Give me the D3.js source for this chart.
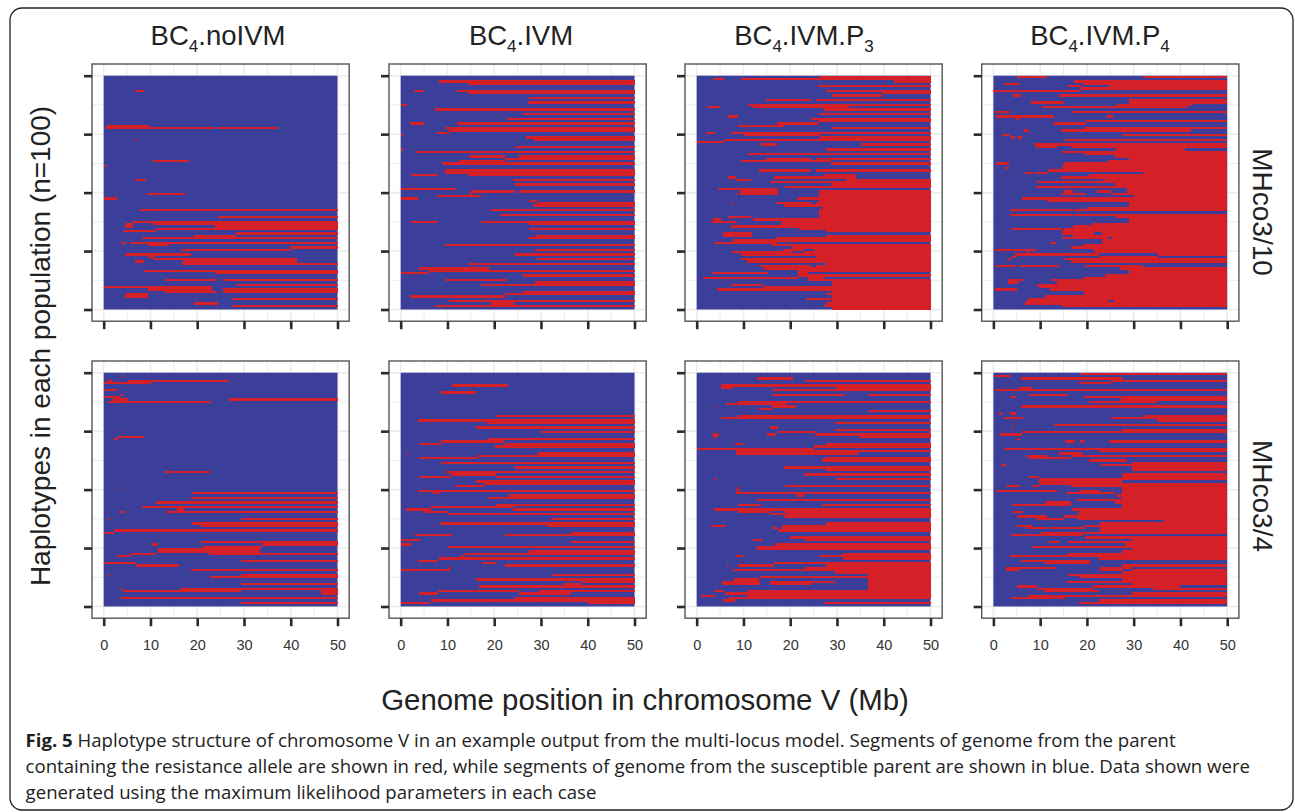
<!DOCTYPE html>
<html lang="en">
<head>
<meta charset="UTF-8">
<title>Haplotype structure</title>
<script src="https://cdn.jsdelivr.net/npm/d3@7"></script>
<style>
    body{margin:0;background:#fff;}
    svg{display:block;}
    .axis .domain{display:none;}
    .axis text{font-family:"Liberation Sans",Arial,sans-serif;font-size:14.5px;fill:#333;}
    .axis line{stroke:#2a2a2a;stroke-width:2.6;}
    .title{font-family:"Liberation Sans",Arial,sans-serif;fill:#222;}
    .caption{font-family:"Open Sans",sans-serif;font-size:18.6px;fill:#222;}
</style>
</head>
<body>
<svg width="1295" height="812"></svg>
<script>
// segments of resistant-parent genome: [haplotype row, start Mb, end Mb]
var noIVM_10 = [[6,6.6,8.6],[21,.5,9.6],[22,.5,23.5],[22,24.3,37.3],[27,6.6,7.2],[36,10.6,18.2],[38,.1,.8],[44,6.6,9.1],[50,9.3,17.4],[52,0,2.9],[57,7.7,50],[60,24.5,50],[62,6,50],[63,4.6,6.3],[63,10.6,50],[64,4.6,6.3],[64,23.9,50],[65,11.1,50],[66,4.2,11.1],[67,28.2,50],[68,19.4,28.2],[69,8.1,50],[71,3.8,4.8],[71,5.6,50],[72,9.4,14],[73,39.9,50],[74,16.5,39.9],[76,4.5,18.7],[77,9.4,10.7],[78,10.6,41.3],[79,6.6,8.6],[79,17,41.3],[80,16.7,50],[83,8.7,50],[84,23.7,50],[87,13.2,24.3],[87,25.5,50],[89,28.6,50],[90,0,23.2],[91,9.4,23.2],[91,25.5,50],[92,13.1,24.3],[92,25.5,50],[93,4.5,9.4],[94,4.5,9.4],[95,27.5,50],[97,19.4,24.5],[98,27.5,50]];

var IVM_10 = [[2,8.2,50],[3,14.3,50],[6,2.9,5],[6,12.1,50],[7,14.5,50],[9,27.4,50],[11,27.2,50],[12,0,1.4],[14,7.3,50],[16,26.2,50],[18,22.8,50],[20,1.9,5],[20,12.1,50],[22,9.4,50],[23,10.4,50],[24,7.7,10.3],[25,0,.6],[26,26.9,50],[27,28.6,50],[30,24.5,50],[31,0,.6],[32,3.2,50],[34,14.7,22.3],[34,25.3,50],[35,22.2,50],[36,12.4,22.2],[37,8.9,50],[40,9.4,50],[41,9.4,50],[42,2.3,7.9],[42,14.3,50],[44,24,50],[46,24.5,50],[48,0,11.8],[49,15.1,24.5],[49,25.3,50],[50,14.7,15.2],[51,7.7,17.2],[52,0,3.6],[53,27.4,29.2],[54,29.2,50],[55,28.4,50],[57,19.4,50],[59,21.3,50],[62,2.3,7.9],[62,17.2,50],[63,27.4,50],[65,27.4,50],[68,28.7,50],[69,27.2,50],[72,9.4,50],[74,28.7,50],[76,24.5,50],[78,29.2,50],[80,14.5,50],[82,4,18.8],[83,6,50],[84,0,6],[85,26.2,50],[87,9.4,22.8],[88,28.7,50],[89,17.2,50],[92,26.2,50],[93,22.3,50],[94,1.9,22.3],[96,10.4,50],[97,19.4,24.3],[98,7.3,50]];

var P3_10 = [[0,26.2,50],[1,3.5,5.8],[1,9.4,50],[2,42.1,50],[4,26,50],[6,27.6,50],[7,39.7,50],[8,29,39.7],[10,14.8,24.5],[10,25.5,50],[12,11,50],[13,2.1,5],[13,12.1,32.6],[14,27.2,50],[16,26.2,50],[17,6.7,8.9],[18,24.5,50],[19,25.9,50],[20,17.2,25.9],[21,8.9,18.7],[22,29,50],[24,2,3.9],[24,7.4,50],[25,10.2,26.4],[26,26.4,50],[27,5.8,50],[28,0,5.8],[29,13.8,17.2],[29,35.2,50],[31,27.6,50],[33,11,50],[35,14.8,24.5],[35,25.5,27],[35,27.4,50],[36,9.4,28.7],[37,28.7,50],[40,13.3,24.4],[40,25.5,50],[42,27.2,34],[43,6.7,8.3],[43,16.5,34],[44,8.4,11.6],[44,32,50],[45,15.6,50],[46,28.7,50],[47,18.9,50],[48,4.6,17.3],[49,9.2,17.3],[49,26.2,50],[50,8.3,8.9],[50,9.2,17.3],[50,26.2,50],[51,26.2,50],[52,21.4,50],[53,26.2,50],[54,7.4,7.8],[54,17,24.5],[54,25.5,50],[55,18.6,50],[56,27,50],[57,26.2,50],[58,26.2,50],[59,26.2,50],[60,6.7,11.6],[60,26.2,50],[61,3.5,5.1],[61,12.1,50],[62,3.1,8.6],[62,18,50],[63,18,50],[64,7.4,50],[65,21.8,50],[66,27.6,50],[67,5.7,11.9],[68,5.7,11.9],[68,27.6,50],[69,17,50],[70,7.8,17.2],[70,16.5,50],[71,3.7,17.2],[72,16.2,50],[73,20.4,50],[74,18.4,22.8],[74,25,50],[75,7.5,20.4],[75,22.8,50],[76,9.5,50],[77,25.5,50],[78,9.5,50],[79,10.8,50],[80,27.6,50],[81,13.3,24.4],[81,25.5,50],[82,14.3,50],[83,21.6,50],[84,3.3,15.2],[84,21.6,23.8],[85,21.6,50],[86,1.4,21.7],[86,23.8,27.2],[87,23.8,50],[88,29,50],[89,7.4,14.2],[89,29,50],[90,14.2,50],[91,4.3,50],[92,29,50],[93,27.6,50],[94,29,50],[95,23.3,50],[96,29,50],[97,27.6,50],[98,27.2,50],[99,29,50]];

var P4_10 = [[0,5.1,11.5],[0,32,50],[2,17.2,50],[3,2.3,5.6],[3,19.1,50],[4,16,18.8],[4,24.8,50],[5,18.6,50],[6,0,18.6],[8,4.3,5.8],[8,14,50],[10,28.9,50],[11,8.1,15.1],[11,28.9,50],[12,26.4,42.5],[13,10.5,41.3],[15,.3,3.6],[15,16.8,50],[17,.5,13],[17,24.4,25.5],[18,4.8,5.5],[19,19.8,50],[20,12.8,19.8],[22,19.4,50],[23,6.6,7.3],[23,14.5,42.2],[24,7.3,7.6],[25,1.9,3.6],[25,27.4,50],[26,3.7,4.7],[26,5.2,6.2],[27,15.4,50],[29,8.7,50],[30,9.1,13.5],[30,16.7,50],[31,26.2,40.9],[32,14.7,50],[33,19.6,50],[34,26,50],[35,28.9,50],[36,24.6,50],[37,.5,3.3],[37,15,50],[38,14.9,50],[39,2.5,3.3],[39,14.7,50],[40,11.7,50],[41,6.7,8.5],[41,9,11.5],[41,32,50],[42,20.4,50],[43,14.5,50],[44,23.5,24.3],[44,24.6,50],[45,9.4,50],[46,26,50],[47,9.2,50],[48,28.5,50],[49,15,17],[49,22.1,25.1],[49,28.5,50],[50,14.5,19.8],[50,25.1,50],[51,30,50],[52,6.2,50],[53,11.5,50],[54,28.9,50],[55,28.9,50],[56,20.1,50],[57,3.6,17],[57,17.2,50],[59,3.6,17],[59,17.2,50],[60,26.2,50],[61,28.9,50],[62,28.9,50],[63,21.1,50],[64,17,50],[65,3.8,14.7],[65,15,50],[66,14.7,50],[67,14.7,21.6],[67,23.2,50],[68,17,50],[69,14.7,24.6],[69,25.3,50],[70,23.2,50],[71,12.1,13.4],[71,23.2,50],[72,19.1,50],[73,16.7,50],[74,.4,9.4],[74,21.2,50],[75,7.2,7.6],[75,21.8,50],[76,4.6,22.5],[76,35.1,50],[77,4,4.8],[77,22.5,35.1],[78,3,3.7],[78,15,50],[79,16.7,50],[81,.5,4.8],[81,5.5,14.1],[81,19.5,32],[82,27.1,50],[83,28.9,50],[84,28.9,50],[85,23.9,50],[86,19.3,50],[87,3.2,5.1],[87,5.3,6.6],[87,12.4,50],[88,3.2,5.3],[88,13.6,50],[89,9.4,50],[90,9.7,50],[91,.4,5.1],[91,12,50],[92,19.4,50],[93,19.4,50],[94,11.1,50],[95,7.6,50],[96,6.9,24.6],[96,25.7,50],[97,6.7,50],[98,14.7,50]];

var noIVM_4 = [[1,3.8,4.2],[3,.8,1.9],[3,5.1,26.7],[4,0,10.1],[7,0,2.9],[9,3.5,4.2],[10,0,3.5],[11,1.9,5.1],[11,26.7,50],[12,1,23],[24,3.9,4.2],[27,3.1,8.6],[28,2.2,3],[42,12.8,22.8],[49,3.9,4.2],[51,18.8,50],[53,18.7,50],[55,11.1,50],[57,8.2,50],[58,15.7,17.1],[59,3.5,4.5],[59,13.3,50],[62,1,1.3],[62,29.4,50],[64,18.8,50],[65,20.9,50],[67,2.3,50],[68,0,2.3],[72,20.9,50],[73,10.4,11.7],[73,33.8,50],[74,21.2,33.8],[75,11.6,33.5],[76,11.6,33.5],[77,5.6,11.1],[77,22.5,50],[78,2.9,5.6],[80,29.4,50],[81,0,7],[82,7,16],[84,18.7,50],[86,1,1.3],[86,29.4,50],[87,22.8,50],[90,29.4,50],[92,3.8,4.2],[92,16.4,50],[93,4.2,29.4],[93,46.5,50],[94,46.5,50],[96,3.7,50],[98,29.4,50]];

var IVM_4 = [[5,10.9,23],[8,8.7,16.2],[18,20.4,50],[20,3.6,50],[21,18.4,50],[23,16.1,50],[25,30.1,50],[28,18.7,50],[29,8.7,22],[30,4,8.7],[30,22.2,50],[31,20.1,50],[34,1.1,1.3],[34,29.4,50],[35,16.5,50],[36,4,16.5],[38,8.7,50],[40,24.5,50],[42,9.6,50],[43,10.7,20.4],[44,4,10.7],[44,20.4,50],[46,16,50],[47,17.9,50],[48,11.7,17.9],[50,3.6,50],[51,6.9,8.3],[52,23.2,50],[53,18.7,50],[56,20.4,50],[57,6.4,24],[58,1.2,6.4],[58,24,50],[59,5,10.1],[60,10.1,50],[62,32.1,50],[64,8.3,50],[65,6.6,6.9],[65,31.2,50],[68,36.5,50],[69,3,11],[69,22.3,50],[71,0,4.1],[72,36.5,50],[73,0,2.1],[74,10.1,50],[76,27.4,50],[77,13.8,50],[78,12.8,13.8],[79,8.1,50],[80,3.6,8],[81,17.4,20.7],[82,22.3,50],[83,10.1,10.6],[84,0,10.6],[86,32.4,50],[88,16.1,50],[89,38.7,50],[90,35,38.5],[91,16.7,50],[93,7.9,25.3],[93,29.6,50],[94,4,7.9],[94,25.3,36.5],[96,24.5,50],[97,6.4,50],[98,0,6.2],[98,40,50]];

var P3_4 = [[2,12.9,20.5],[3,23.2,50],[5,5.2,50],[6,5.2,7.7],[6,29.8,50],[7,16.1,50],[9,16,31.7],[9,36.7,50],[12,8.9,50],[13,6.2,19],[14,3.7,4],[14,16.1,21.3],[15,13.4,16],[16,36.7,50],[18,8.9,50],[19,5.2,50],[21,29.6,50],[23,15.7,17.3],[24,29.6,50],[25,17.3,25.3],[26,3.5,4.8],[26,15,17],[26,25.3,50],[27,3.5,4.4],[27,34.9,50],[30,8.2,9.9],[30,27.6,50],[31,25,50],[32,0,25],[33,8.3,50],[34,8.3,34.5],[36,27.4,50],[37,26.7,50],[40,18.7,50],[41,27.6,50],[43,23,50],[45,3.8,4.2],[45,29.7,50],[48,18.9,50],[49,8.7,9],[50,8.5,9.1],[51,8.4,50],[52,21.4,23],[54,13,50],[56,8.9,13.8],[56,26.7,50],[58,3.7,50],[59,8.9,15.7],[59,18.7,50],[60,15.7,18.9],[60,19.4,50],[61,18.7,50],[64,27.6,50],[65,3,6.2],[65,18.2,50],[66,16.1,17.3],[66,18.2,50],[67,17.3,50],[70,20,50],[71,12.1,14],[71,23.2,50],[73,16.8,50],[74,12.6,50],[75,13,50],[77,31.3,50],[78,8.5,10],[78,26.2,50],[79,31.3,50],[81,16.5,50],[82,6.5,6.7],[82,8.8,16.5],[82,27.6,50],[83,23.2,50],[84,7.7,50],[85,29.6,50],[86,36.7,50],[87,13.6,50],[88,8,13.3],[88,36.7,50],[89,5.5,13.6],[89,15.7,29.6],[89,36.7,50],[90,5.5,13.6],[90,15.7,24.6],[90,36.7,50],[91,36.7,50],[92,36.7,50],[93,3.7,5.8],[93,11,50],[94,6,50],[95,1,3.9],[95,11,50],[96,6.9,50],[97,5.7,8.2],[98,27.2,50]];

var P4_4 = [[0,18.6,50],[1,.4,3.8],[2,6,27.4],[3,25.2,50],[4,18.4,25.2],[6,5.5,8.3],[7,.4,50],[9,7.7,16],[10,3.5,4.8],[10,19.4,50],[11,27.2,50],[12,20.4,35],[14,6,50],[17,1.3,1.9],[17,3.5,4.8],[18,32.1,50],[19,2.3,6.3],[19,25.2,50],[20,34.9,50],[21,4,4.3],[22,12.9,50],[23,3.9,4.2],[24,27.4,50],[25,6.2,50],[26,1.5,6.2],[28,5.1,5.7],[29,15.4,17.4],[29,18.6,19.3],[29,24.8,50],[32,2.3,50],[33,22.5,50],[34,14,19],[35,6.9,11.5],[35,16.8,50],[36,7.7,16.7],[37,20.4,28.5],[38,29.6,50],[39,1.7,2.6],[39,23,50],[40,29.6,50],[41,29.6,50],[43,27.4,50],[44,7.7,9.7],[44,27.4,50],[45,9.7,50],[46,9.7,27.4],[47,9.7,50],[48,2.8,5.6],[48,8.3,9.7],[48,16.7,50],[49,27.4,50],[50,.5,13.6],[50,18.2,22.8],[50,27.4,50],[51,15.6,26],[51,27.4,50],[52,26.4,50],[53,27.4,50],[54,17.9,50],[55,11.1,16.5],[55,26,50],[56,4,16.5],[56,27.4,50],[57,27.4,50],[58,16.8,50],[59,4,6.3],[59,18.4,50],[60,18,50],[61,5.1,11.5],[61,15,50],[62,9.4,15],[62,18,50],[63,36.5,50],[64,22.8,50],[65,5.1,8.3],[65,19.6,50],[66,7,11.7],[66,12.2,19.6],[66,22.8,50],[67,22.8,50],[68,10.1,50],[69,3.7,18.9],[70,19.6,50],[71,29.6,50],[72,11.8,14],[72,16,50],[73,28.2,50],[74,8.3,50],[75,29.6,50],[76,27.4,50],[77,16,50],[78,3.6,50],[79,22.5,50],[80,5.8,20.7],[81,11.1,20.7],[82,27.4,50],[83,2.6,13.4],[83,22.8,29.6],[84,2.6,5.5],[84,22.5,27.4],[84,29.6,50],[85,27.4,50],[86,16,50],[87,18.4,50],[88,27.4,50],[89,15.7,50],[90,29.6,50],[91,5.1,9.4],[91,21.4,40],[92,9.4,21.4],[92,34.2,50],[93,10.8,22.5],[94,29.6,50],[95,7.4,50],[96,3.8,13.1],[96,13.6,15.4],[97,22.5,50],[98,18.4,50]];

var panelData = [[noIVM_10,IVM_10,P3_10,P4_10],[noIVM_4,IVM_4,P3_4,P4_4]];
var titles = [['BC','4','.noIVM'],['BC','4','.IVM'],['BC','4','.IVM.P','3'],['BC','4','.IVM.P','4']];
var strips = ['MHco3/10','MHco3/4'];
var xTicks = [0,10,20,30,40,50];
var xMinor = [5,15,25,35,45];
var yTicks = [0,25,50,75,100];
var yMinor = [12.5,37.5,62.5,87.5];
var nRows = 100;
var caption = [
    ' Haplotype structure of chromosome V in an example output from the multi-locus model. Segments of genome from the parent',
    'containing the resistance allele are shown in red, while segments of genome from the susceptible parent are shown in blue. Data shown were',
    'generated using the maximum likelihood parameters in each case'
];

var svg = d3.select('svg');
var blue = '#3c3f99', red = '#d62027';

// outer frame of the journal figure box
svg.append('rect').attr('x',10).attr('y',8).attr('width',1283).attr('height',802)
    .attr('rx',12).attr('fill','none').attr('stroke','#222').attr('stroke-width',1.3);

var colX = [92,389,685,981.7], rowY = [64,361], pw = 257.2, ph = 257.2;
var titleX = [218,521,804,1100], stripY = [212,496];

panelData.forEach(function(rowPanels,ri){
    rowPanels.forEach(function(segs,ci){
        var g = svg.append('g').attr('transform','translate('+colX[ci]+','+rowY[ri]+')');
        var x = d3.scaleLinear().domain([-2.5,52.5]).range([0,pw]);
        var y = d3.scaleLinear().domain([-5,105]).range([0,ph]);

        g.append('rect').attr('width',pw).attr('height',ph).attr('fill','#fff');

        // grid
        g.selectAll('.gx').data(xTicks.concat(xMinor)).enter().append('line')
            .attr('x1',function(d){return x(d)}).attr('x2',function(d){return x(d)})
            .attr('y2',ph).attr('stroke','#ececec')
            .attr('stroke-width',function(d){return d%10==0?1.6:1});
        g.selectAll('.gy').data(yTicks.concat(yMinor)).enter().append('line')
            .attr('y1',function(d){return y(d)}).attr('y2',function(d){return y(d)})
            .attr('x2',pw).attr('stroke','#ececec')
            .attr('stroke-width',function(d){return d%25==0?1.6:1});

        // haplotypes: blue background then red segments
        var raster = g.append('g').style('filter','blur(0.4px)');
        raster.append('rect')
            .attr('x',x(0)).attr('y',y(0))
            .attr('width',x(50)-x(0)).attr('height',y(nRows)-y(0))
            .attr('fill',blue);
        raster.selectAll('.seg').data(segs).enter().append('rect')
            .attr('x',function(d){return x(d[1])})
            .attr('y',function(d){return y(d[0])})
            .attr('width',function(d){return x(d[2])-x(d[1])})
            .attr('height',y(1)-y(0))
            .attr('shape-rendering','crispEdges')
            .attr('fill',red);

        g.append('rect').attr('width',pw).attr('height',ph)
            .attr('fill','none').attr('stroke','#555').attr('stroke-width',1.4);

        // axes
        g.append('g').attr('class','axis')
            .attr('transform','translate(0,'+ph+')')
            .call(d3.axisBottom(x).tickValues(xTicks).tickSize(8).tickPadding(14)
                .tickFormat(ri==0?'':function(d){return d}));
        g.append('g').attr('class','axis')
            .call(d3.axisLeft(y).tickValues(yTicks).tickSize(8).tickFormat(''));

        if(ri==0){
            var t = svg.append('text').attr('class','title')
                .attr('x',titleX[ci]).attr('y',45)
                .attr('text-anchor','middle').attr('font-size',27.5);
            titles[ci].forEach(function(p,i){
                var sub = i%2==1;
                t.append('tspan').text(p)
                    .attr('font-size',sub?17:27.5)
                    .attr('dy',i==0?0:(sub?7:-7));
            });
        }
    });
    svg.append('text').attr('class','title')
        .attr('transform','translate(1253,'+stripY[ri]+') rotate(90)')
        .attr('text-anchor','middle').attr('font-size',28)
        .text(strips[ri]);
});

svg.append('text').attr('class','title')
    .attr('transform','translate(50,346) rotate(-90)')
    .attr('text-anchor','middle').attr('font-size',28)
    .text('Haplotypes in each population (n=100)');
svg.append('text').attr('class','title')
    .attr('x',645).attr('y',710)
    .attr('text-anchor','middle').attr('font-size',29.4)
    .text('Genome position in chromosome V (Mb)');

// caption
var cap = svg.append('text').attr('class','caption');
var line1 = cap.append('tspan').attr('x',25.6).attr('y',747);
line1.append('tspan').attr('font-weight','bold').text('Fig. 5');
line1.append('tspan').text(caption[0]);
cap.append('tspan').attr('x',25.6).attr('y',773).text(caption[1]);
cap.append('tspan').attr('x',25.6).attr('y',799).text(caption[2]);
</script>
</body>
</html>
